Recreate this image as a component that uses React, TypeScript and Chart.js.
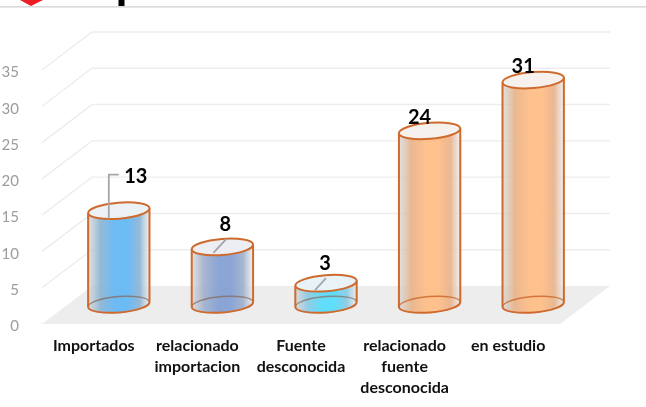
import React, { useEffect, useRef } from "react";
import { Chart, registerables } from "chart.js";

Chart.register(...registerables);

const categories = [
  "Importados",
  ["relacionado", "importacion"],
  ["Fuente", "desconocida"],
  ["relacionado", "fuente", "desconocida"],
  "en estudio",
];
const values = [13, 8, 3, 24, 31];
const yMax = 35;
const yStep = 5;

// Styling of each cylinder
const mainColors = ["#64B8F5", "#85A0D4", "#58DDFB", "#FFBE88", "#FFBE88"];
const shadeColors = ["#8FB6D6", "#A3B2CE", "#8CCBE4", "#E8B48C", "#E8B48C"];
const capColors = ["#ECF1F5", "#ECEEF3", "#E9F3F7", "#F6F1ED", "#F6F1ED"];
const rimColors = [
  "rgba(135,110,100,0.8)",
  "rgba(135,110,100,0.8)",
  "rgba(135,120,110,0.8)",
  "rgba(205,110,50,0.9)",
  "rgba(205,110,50,0.9)",
];
const labelOffsets = [[17, -35], [3, -23], [-1, -21], [-10, -14], [-10, -14]];
const leaderPaths: number[][][] = [
  [[-10, 8], [-10, -36], [0, -36]],
  [[-9, 6], [4, -8]],
  [[-11, 7], [0, -5]],
  [],
  [],
];

const DEPTH_X = 50;
const DEPTH_Y = -38;
const STROKE = "#CE6A2D";
const TILT = (-4.6 * Math.PI) / 180;
const RY = 8;

const scenePlugin = {
  id: "scene",
  beforeDraw(chart: any) {
    // nudge the value axis labels to sit on their ticks for this font
    const items = chart.scales.y.getLabelItems();
    if (!items.__nudged) {
      items.forEach((it: any) => {
        it.options.translation[1] += 2.5;
      });
      items.__nudged = true;
    }
  },
  beforeDatasetsDraw(chart: any) {
    const { ctx, scales, chartArea } = chart;
    const y = scales.y;
    const l = chartArea.left;
    const r = chartArea.right;
    const y0 = y.getPixelForValue(0);
    ctx.save();
    // page header remnants
    ctx.fillStyle = "#ED1C24";
    ctx.beginPath();
    ctx.moveTo(20, 0);
    ctx.lineTo(43, 0);
    ctx.lineTo(31, 6);
    ctx.closePath();
    ctx.fill();
    ctx.fillStyle = "#000";
    ctx.fillRect(118.5, 0, 6, 6);
    ctx.fillStyle = "#DADADA";
    ctx.fillRect(0, 6, 646, 1.6);
    // floor
    ctx.fillStyle = "#EDEDED";
    ctx.beginPath();
    ctx.moveTo(l, y0);
    ctx.lineTo(r, y0);
    ctx.lineTo(r + DEPTH_X, y0 + DEPTH_Y);
    ctx.lineTo(l + DEPTH_X, y0 + DEPTH_Y);
    ctx.closePath();
    ctx.fill();
    // side and back walls grid
    ctx.strokeStyle = "#EDEDED";
    ctx.lineWidth = 1.4;
    for (let v = yStep; v <= yMax; v += yStep) {
      const p = y.getPixelForValue(v);
      ctx.beginPath();
      ctx.moveTo(l, p);
      ctx.lineTo(l + DEPTH_X, p + DEPTH_Y);
      ctx.lineTo(r + DEPTH_X, p + DEPTH_Y);
      ctx.stroke();
    }
    ctx.restore();
  },
  afterDatasetsDraw(chart: any) {
    const { ctx } = chart;
    const meta = chart.getDatasetMeta(0);
    meta.data.forEach((el: any, i: number) => {
      const props = el.getProps(["x", "y", "base", "width"], true);
      const rx = props.width / 2 - 0.3;
      const cx = props.x + DEPTH_X / 2;
      const topY = props.y + DEPTH_Y / 2;
      const botY = props.base + DEPTH_Y / 2 - 0.5;
      const ex = rx * Math.cos(TILT);
      const ey = rx * Math.sin(TILT);
      ctx.save();
      const g = ctx.createLinearGradient(cx - rx, 0, cx + rx, 0);
      g.addColorStop(0, "rgba(208,208,208,0.7)");
      g.addColorStop(0.2, shadeColors[i]);
      g.addColorStop(0.44, mainColors[i]);
      g.addColorStop(0.64, mainColors[i]);
      g.addColorStop(0.84, shadeColors[i]);
      g.addColorStop(1, "rgba(232,232,232,0.7)");
      // body
      ctx.beginPath();
      ctx.moveTo(cx - ex, topY - ey);
      ctx.lineTo(cx - ex, botY - ey);
      ctx.ellipse(cx, botY, rx, RY, TILT, Math.PI, 0, true);
      ctx.lineTo(cx + ex, topY + ey);
      ctx.closePath();
      ctx.fillStyle = g;
      ctx.globalAlpha = 0.95;
      ctx.fill();
      ctx.globalAlpha = 1;
      // back rim of the base, seen through the body
      ctx.beginPath();
      ctx.ellipse(cx, botY, rx, RY, TILT, Math.PI, 0, false);
      ctx.strokeStyle = rimColors[i];
      ctx.lineWidth = 1.5;
      ctx.stroke();
      // outline
      ctx.beginPath();
      ctx.moveTo(cx - ex, topY - ey);
      ctx.lineTo(cx - ex, botY - ey);
      ctx.ellipse(cx, botY, rx, RY, TILT, Math.PI, 0, true);
      ctx.lineTo(cx + ex, topY + ey);
      ctx.strokeStyle = STROKE;
      ctx.lineWidth = 2;
      ctx.stroke();
      // cap
      ctx.beginPath();
      ctx.ellipse(cx, topY, rx, RY, TILT, 0, Math.PI * 2);
      ctx.fillStyle = capColors[i];
      ctx.fill();
      ctx.stroke();
      // leader
      const path = leaderPaths[i];
      if (path.length) {
        ctx.beginPath();
        path.forEach(([dx, dy], k) => {
          if (k === 0) ctx.moveTo(cx + dx, topY + dy);
          else ctx.lineTo(cx + dx, topY + dy);
        });
        ctx.strokeStyle = "#A6A6A6";
        ctx.lineWidth = 1.8;
        ctx.stroke();
      }
      // value
      ctx.fillStyle = "#000";
      ctx.font = "bold 20px Lato";
      ctx.textAlign = "center";
      ctx.textBaseline = "middle";
      ctx.fillText(String(values[i]), cx + labelOffsets[i][0], topY + labelOffsets[i][1] + 1);
      ctx.restore();
    });
  },
};

export default function App() {
  const ref = useRef<HTMLCanvasElement>(null);
  useEffect(() => {
    const chart = new Chart(ref.current!, {
      type: "bar",
      data: {
        labels: categories as any,
        datasets: [
          {
            data: values,
            backgroundColor: "rgba(0,0,0,0)",
            borderWidth: 0,
            categoryPercentage: 1,
            barPercentage: 0.6,
          },
        ],
      },
      options: {
        responsive: false,
        animation: false,
        layout: { padding: { top: 70, right: 86, left: 0, bottom: 0 } },
        plugins: { legend: { display: false }, tooltip: { enabled: false } },
        scales: {
          x: {
            grid: { display: false },
            border: { display: false },
            afterFit: (s: any) => {
              s.height = 83;
            },
            ticks: {
              color: "#111111",
              font: { family: "Lato", size: 16, weight: "bold", lineHeight: 1.31 },
              padding: 3,
              maxRotation: 0,
              autoSkip: false,
            },
          },
          y: {
            min: 0,
            max: yMax,
            grid: { display: false },
            border: { display: false },
            afterFit: (s: any) => {
              s.width = 42;
            },
            ticks: {
              stepSize: yStep,
              color: "#9C9C9C",
              font: { family: "Lato", size: 15 },
              padding: 15,
            },
          },
        },
      },
      plugins: [scenePlugin],
    });
    return () => chart.destroy();
  }, []);
  return (
    <div style={{ position: "fixed", left: 0, top: 0, width: 646, height: 407, background: "#fff" }}>
      <canvas ref={ref} width={646} height={407} style={{ display: "block", filter: "blur(0.4px)" }} />
    </div>
  );
}
